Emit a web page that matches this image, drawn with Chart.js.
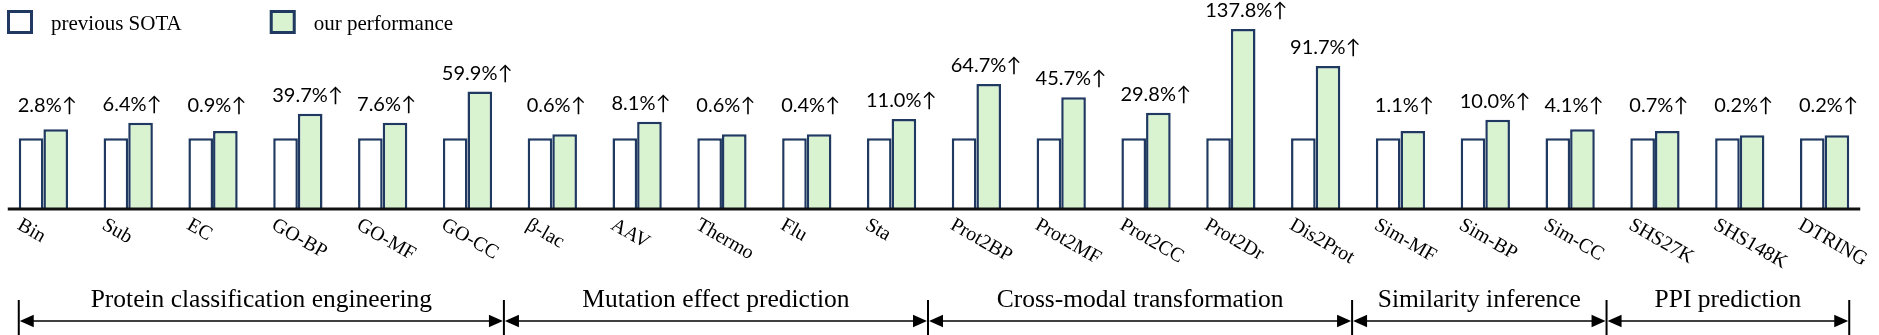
<!DOCTYPE html>
<html>
<head>
<meta charset="utf-8">
<script src="https://cdn.jsdelivr.net/npm/chart.js@4.4.0/dist/chart.umd.min.js"></script>
<style>
  html, body { margin: 0; padding: 0; background: #fff; }
  #wrap { width: 1879px; height: 335px; }
</style>
</head>
<body>
<div id="wrap"><canvas id="chart" width="1879" height="335"></canvas></div>
<script>
// Tasks along the x axis
const tasks = ['Bin', 'Sub', 'EC', 'GO-BP', 'GO-MF', 'GO-CC', 'β-lac', 'AAV', 'Thermo', 'Flu', 'Sta',
  'Prot2BP', 'Prot2MF', 'Prot2CC', 'Prot2Dr', 'Dis2Prot', 'Sim-MF', 'Sim-BP', 'Sim-CC',
  'SHS27K', 'SHS148K', 'DTRING'];

// Bar heights, previous SOTA normalised to 100
const previousSota = [100, 100, 100, 100, 100, 100, 100, 100, 100, 100, 100,
  100, 100, 100, 100, 100, 100, 100, 100, 100, 100, 100];
const ourPerformance = [112.7, 122.1, 110.3, 134.8, 122.1, 166, 105.6, 123.5, 105.6, 105.6, 127.3,
  176.8, 158, 136.2, 254.6, 202.3, 110.3, 126.3, 112.7, 110.3, 104.2, 104.2];

// Improvement printed above each pair
const gains = ['2.8%', '6.4%', '0.9%', '39.7%', '7.6%', '59.9%', '0.6%', '8.1%', '0.6%', '0.4%', '11.0%',
  '64.7%', '45.7%', '29.8%', '137.8%', '91.7%', '1.1%', '10.0%', '4.1%', '0.7%', '0.2%', '0.2%'];

// Task families under the axis
const groupNames = ['Protein classification engineering', 'Mutation effect prediction',
  'Cross-modal transformation', 'Similarity inference', 'PPI prediction'];
const groupSizes = [6, 5, 5, 3, 3];

const NAVY = '#1f3960';
const GREEN = '#d9f2d0';
const SERIF = '"Liberation Serif", "Times New Roman", serif';

// Legend drawn by hand (boxes + serif text)
const legendPlugin = {
  id: 'handLegend',
  afterDraw(chart) {
    const ctx = chart.ctx;
    ctx.save();
    ctx.font = '21px ' + SERIF;
    ctx.textBaseline = 'alphabetic';
    let x = 7;
    chart.data.datasets.forEach(ds => {
      ctx.fillStyle = ds.backgroundColor;
      ctx.fillRect(x, 10, 26, 24);
      ctx.lineWidth = 3;
      ctx.strokeStyle = ds.borderColor;
      ctx.strokeRect(x + 1.5, 11.5, 23, 21);
      ctx.fillStyle = '#000';
      ctx.fillText(ds.label, x + 44, 30);
      x += 44 + ctx.measureText(ds.label).width + 88;
    });
    ctx.restore();
  }
};

// Baseline, gain labels, rotated task names and group brackets
const decorPlugin = {
  id: 'decor',
  afterDatasetsDraw(chart) {
    const ctx = chart.ctx;
    const prev = chart.getDatasetMeta(0).data;
    const ours = chart.getDatasetMeta(1).data;
    const yScale = chart.scales.y;
    const xScale = chart.scales.x;
    const leftOf = i => prev[i].x - prev[i].width / 2;
    const rightOf = i => ours[i].x + ours[i].width / 2;
    const n = tasks.length;

    ctx.save();

    // axis line
    const y0 = yScale.getPixelForValue(0);
    ctx.strokeStyle = '#111';
    ctx.lineWidth = 3;
    ctx.beginPath();
    ctx.moveTo(leftOf(0) - 11, y0);
    ctx.lineTo(rightOf(n - 1) + 11, y0);
    ctx.stroke();

    // gain labels
    const floorY = yScale.getPixelForValue(137);
    ctx.fillStyle = '#000';
    ctx.font = '20px Lato, "Open Sans", sans-serif';
    ctx.textAlign = 'left';
    ctx.textBaseline = 'alphabetic';
    gains.forEach((g, i) => {
      const y = Math.min(floorY, ours[i].y - 12);
      ctx.fillText(g + '↑', leftOf(i) - 1, y);
    });

    // task names, rotated clockwise
    ctx.font = '20px ' + SERIF;
    ctx.textBaseline = 'top';
    tasks.forEach((t, i) => {
      ctx.save();
      ctx.translate(leftOf(i) + 5, 215);
      ctx.rotate(Math.PI / 6);
      ctx.fillText(t, 0, 0);
      ctx.restore();
    });

    // group brackets (dividers sit a little left of the gap centre)
    const edges = [leftOf(0)];
    let k = 0;
    groupSizes.forEach((s, g) => {
      k += s;
      if (g < groupSizes.length - 1) {
        edges.push((xScale.getPixelForValue(k - 1) + xScale.getPixelForValue(k)) / 2 - 6);
      } else {
        edges.push(rightOf(n - 1));
      }
    });
    const lineY = 321;
    ctx.strokeStyle = '#000';
    ctx.fillStyle = '#000';
    ctx.lineWidth = 2;
    edges.forEach(e => {
      ctx.beginPath();
      ctx.moveTo(e, 300);
      ctx.lineTo(e, 335);
      ctx.stroke();
    });
    const arrow = (tip, dir) => {
      ctx.beginPath();
      ctx.moveTo(tip, lineY);
      ctx.lineTo(tip - dir * 14, lineY - 6.2);
      ctx.lineTo(tip - dir * 14, lineY + 6.2);
      ctx.closePath();
      ctx.fill();
    };
    ctx.lineWidth = 1.5;
    ctx.font = '25.5px ' + SERIF;
    ctx.textAlign = 'center';
    ctx.textBaseline = 'alphabetic';
    groupNames.forEach((name, g) => {
      const a = edges[g] + 1;
      const b = edges[g + 1] - 1;
      ctx.beginPath();
      ctx.moveTo(a + 10, lineY);
      ctx.lineTo(b - 10, lineY);
      ctx.stroke();
      arrow(a, -1);
      arrow(b, 1);
      ctx.fillText(name, (a + b) / 2, 307);
    });

    ctx.restore();
  }
};

new Chart(document.getElementById('chart').getContext('2d'), {
  type: 'bar',
  data: {
    labels: tasks,
    datasets: [{
      label: 'previous SOTA',
      data: previousSota,
      backgroundColor: '#ffffff',
      borderColor: NAVY,
      borderWidth: 2.5,
      categoryPercentage: 0.581,
      barPercentage: 1
    }, {
      label: 'our performance',
      data: ourPerformance,
      backgroundColor: GREEN,
      borderColor: NAVY,
      borderWidth: 2.5,
      categoryPercentage: 0.581,
      barPercentage: 1
    }]
  },
  options: {
    responsive: false,
    animation: false,
    layout: { padding: { left: 1, right: 12, top: 11, bottom: 126 } },
    plugins: { legend: { display: false }, tooltip: { enabled: false } },
    scales: {
      x: { display: false },
      y: { display: false, min: 0, max: 280 }
    }
  },
  plugins: [legendPlugin, decorPlugin]
});
</script>
</body>
</html>
